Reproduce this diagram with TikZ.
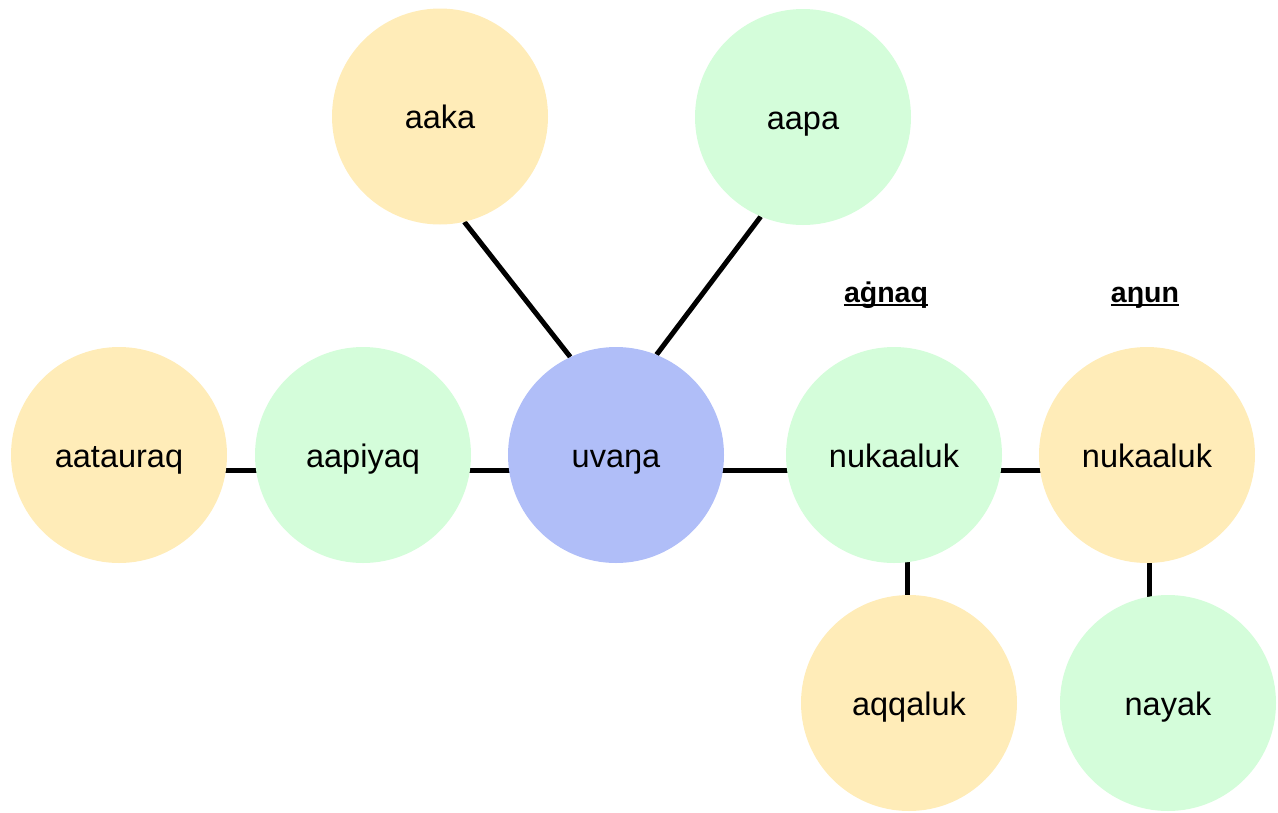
\documentclass[tikz,border=0pt]{standalone}
\usepackage{fontspec}
\setmainfont{Liberation Sans}
\usetikzlibrary{backgrounds}
\definecolor{cyellow}{RGB}{255,236,184}
\definecolor{cgreen}{RGB}{212,253,218}
\definecolor{cblue}{RGB}{176,190,248}
\tikzset{
  bubble/.style={circle, minimum size=216pt, inner sep=0pt, draw=none,
    font=\fontsize{32.5}{36}\selectfont, text height=24pt, text depth=0pt},
  yel/.style={bubble, fill=cyellow},
  grn/.style={bubble, fill=cgreen},
  blu/.style={bubble, fill=cblue},
  link/.style={line width=5pt, black},
  head/.style={font=\fontsize{28.5}{32}\bfseries\selectfont, inner sep=0pt},
  uline/.style={line width=2pt, black}
}
\begin{document}
\begin{tikzpicture}[x=1pt,y=-1pt]
\useasboundingbox (0,0) rectangle (1278,812);
\node[yel] (aaka) at (440,116.5) {aaka};
\node[grn] (aapa) at (803,117) {aapa};
\node[yel] (aatauraq) at (119,455) {aatauraq};
\node[grn] (aapiyaq) at (363,455) {aapiyaq};
\node[blu] (uvana) at (616,455) {uva\char"014B a};
\node[grn] (nuk1) at (894,455) {nukaaluk};
\node[yel] (nuk2) at (1147,455) {nukaaluk};
\node[yel] (aqq) at (909,703) {aqqaluk};
\node[grn] (nayak) at (1168,703) {nayak};
\node[head, anchor=base] (agnaq) at (886,302) {a\char"0121 naq};
\node[head, anchor=base] (angun) at (1145,302) {a\char"014B un};
\draw[uline] ([yshift=-3pt]agnaq.base west) -- ([yshift=-3pt]agnaq.base east);
\draw[uline] ([yshift=-3pt]angun.base west) -- ([yshift=-3pt]angun.base east);
\begin{pgfonlayer}{background}
\draw[link] (aaka.-77.7) -- (uvana.115.1);
\draw[link] (aapa.-113.5) -- (uvana.68.2);
\draw[link] ([yshift=-15pt]aatauraq.center) -- ([yshift=-15pt]aapiyaq.center);
\draw[link] ([yshift=-15pt]aapiyaq.center) -- ([yshift=-15pt]uvana.center);
\draw[link] ([yshift=-15pt]uvana.center) -- ([yshift=-15pt]nuk1.center);
\draw[link] ([yshift=-15pt]nuk1.center) -- ([yshift=-15pt]nuk2.center);
\draw[link] ([xshift=13pt]nuk1.center) -- ([xshift=13pt]nuk1.center |- aqq.center);
\draw[link] ([xshift=2pt]nuk2.center) -- ([xshift=2pt]nuk2.center |- nayak.center);
\end{pgfonlayer}
\end{tikzpicture}
\end{document}
